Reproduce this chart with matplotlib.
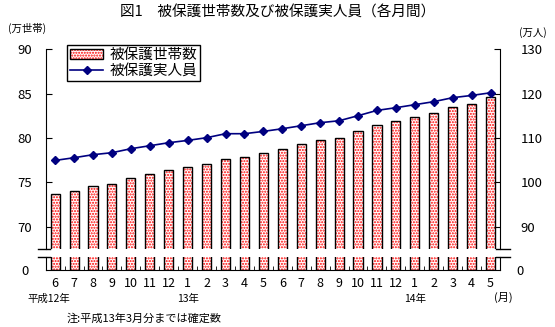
import matplotlib
matplotlib.use('Agg')
import matplotlib.pyplot as plt
import matplotlib.patches as mpatches
from matplotlib.lines import Line2D

plt.rcParams['font.family'] = ['Noto Sans CJK JP', 'DejaVu Sans']
plt.rcParams['hatch.linewidth'] = 1.0

# ---------------------------------------------------------------------------
# data (平成12年6月 ~ 平成14年5月)
months = ['6', '7', '8', '9', '10', '11', '12',
          '1', '2', '3', '4', '5', '6', '7', '8', '9', '10', '11', '12',
          '1', '2', '3', '4', '5']
households = [73.65, 74.02, 74.59, 74.78, 75.49, 75.90, 76.36,
              76.73, 77.07, 77.63, 77.86, 78.31, 78.76, 79.29, 79.74, 79.96,
              80.75, 81.43, 81.88, 82.33, 82.78, 83.46, 83.80, 84.59]
persons = [104.96, 105.57, 106.25, 106.70, 107.60, 108.27, 108.95,
           109.47, 110.08, 110.98, 110.98, 111.50, 112.10, 112.78, 113.46, 113.90,
           115.04, 116.23, 116.84, 117.52, 118.20, 119.10, 119.60, 120.20]
year_labels = [(0, '平成12年'), (7, '13年'), (19, '14年')]
left_ticks = [70, 75, 80, 85, 90]
right_ticks = [90, 100, 110, 120, 130]

x = list(range(len(months)))
W, H = 555, 327

fig = plt.figure(figsize=(W / 100, H / 100), dpi=100)
ax_l, ax_r_px = 45.7, 500.0
ax = fig.add_axes([ax_l / W, 1 - 249 / H, (ax_r_px - ax_l) / W, (249 - 49.3) / H])
axb = fig.add_axes([ax_l / W, 1 - 270 / H, (ax_r_px - ax_l) / W, (270 - 257.3) / H])

def draw_bars(a):
    a.bar(x, households, width=0.48, facecolor='white', edgecolor='red',
          hatch='......', linewidth=0, zorder=2)
    a.bar(x, households, width=0.48, fill=False, edgecolor='black',
          linewidth=1.0, zorder=3)

draw_bars(ax)
draw_bars(axb)

# upper part
ax.set_xlim(-0.5, len(x) - 0.5)
ax.set_ylim(67.5, 90)
ax.set_yticks(left_ticks)
ax.set_xticks([])
for s in ('top', 'bottom', 'right'):
    ax.spines[s].set_visible(False)
ax.tick_params(axis='y', direction='in', length=4, pad=10, labelsize=9.5)

ax2 = ax.twinx()
ax2.set_ylim(85, 130)
ax2.set_yticks(right_ticks)
for s in ('top', 'bottom', 'left'):
    ax2.spines[s].set_visible(False)
ax2.tick_params(axis='y', direction='in', length=4, pad=15, labelsize=9.5)
ax2.plot(x, persons, color='#000080', lw=1.2, marker='D', markersize=4.5, zorder=5)

# lower part
axb.set_xlim(-0.5, len(x) - 0.5)
axb.set_ylim(0, 1.4)
axb.spines['top'].set_visible(False)
axb.set_yticks([0])
axb.tick_params(axis='y', length=0, pad=12, labelsize=9.5, labelright=True)
axb.set_xticks(x)
axb.set_xticklabels(months)
axb.set_xticks([i + 0.5 for i in x[:-1]], minor=True)
axb.tick_params(axis='x', which='major', length=0, pad=5, labelsize=9)
axb.tick_params(axis='x', which='minor', direction='in', length=3)

# break marks
axw = ax_r_px - ax_l
for a in (ax, axb):
    yy = 0 if a is ax else 1
    a.add_line(Line2D([-8 / axw, 4 / axw], [yy, yy], transform=a.transAxes,
                      color='black', lw=1, clip_on=False))
    a.add_line(Line2D([1 - 4 / axw, 1 + 10 / axw], [yy, yy], transform=a.transAxes,
                      color='black', lw=1, clip_on=False))

# texts
fig.text(0.5, 1 - 13 / H, '図1　被保護世帯数及び被保護実人員（各月間）',
         ha='center', va='center', fontsize=10.5)
fig.text(8 / W, 1 - 28 / H, '(万世帯)', ha='left', va='center', fontsize=7.5)
fig.text(547 / W, 1 - 33 / H, '(万人)', ha='right', va='center', fontsize=7.5)
for i, lab in year_labels:
    xf = (ax_l + (i + 0.5) * axw / len(x)) / W
    if i == 0:
        fig.text(27 / W, 1 - 299 / H, lab, ha='left', va='center', fontsize=7.5)
    else:
        fig.text(xf, 1 - 299 / H, lab, ha='center', va='center', fontsize=7.5)
fig.text(503 / W, 1 - 297 / H, '(月)', ha='center', va='center', fontsize=8)
fig.text(67 / W, 1 - 319 / H, '注:平成13年3月分までは確定数', ha='left',
         va='center', fontsize=8)

# legend
h_fill = mpatches.Patch(facecolor='white', edgecolor='red', hatch='......', linewidth=0)
h_edge = mpatches.Patch(fill=False, edgecolor='black', linewidth=1.0)
h_line = Line2D([], [], color='#000080', lw=1.2, marker='D', markersize=4.5)
leg = fig.legend([(h_fill, h_edge), h_line], ['被保護世帯数', '被保護実人員'],
                 loc='upper left', bbox_to_anchor=(67 / W, 1 - 45 / H),
                 fontsize=10.5, frameon=True, fancybox=False, edgecolor='black',
                 framealpha=1, borderpad=0.2, labelspacing=0.15,
                 handlelength=2.3, handletextpad=0.4, borderaxespad=0)
leg.get_frame().set_linewidth(1.0)

fig.savefig('out.png', dpi=100)
